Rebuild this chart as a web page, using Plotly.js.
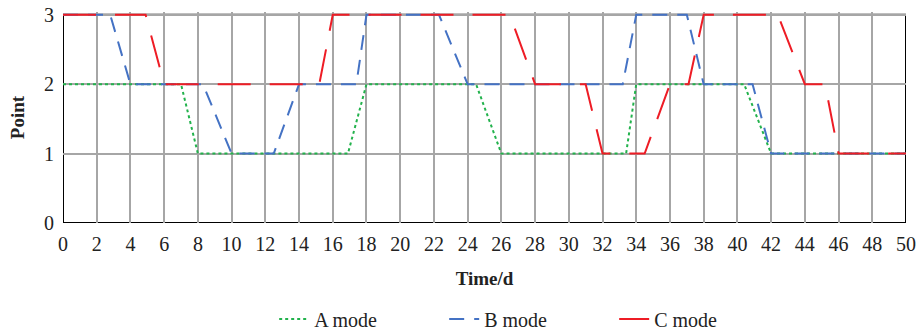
<!DOCTYPE html>
<html><head><meta charset="utf-8">
<script src="https://cdn.plot.ly/plotly-3.0.1.min.js"></script>
<style>html,body{margin:0;padding:0;background:#fff}#chart{width:922px;height:330px}</style>
</head><body><div id="chart"></div>
<script>
const aX = [0, 7, 8, 16.9, 18, 24.5, 26, 33.4, 34, 40.4, 42, 50];
const aY = [2, 2, 1, 1, 2, 2, 1, 1, 2, 2, 1, 1];
const bX = [0, 2.8, 4, 8.3, 10, 12.5, 14, 17.4, 18, 22.3, 24, 33.2, 34, 37, 38, 40.9, 42, 50];
const bY = [3, 3, 2, 2, 1, 1, 2, 2, 3, 3, 2, 2, 3, 3, 2, 2, 1, 1];
const cX = [0, 4.9, 6, 15.2, 16, 26.5, 28, 31, 32, 34.5, 36, 37.1, 38, 42.4, 44, 45.2, 46, 50];
const cY = [3, 3, 2, 2, 3, 3, 2, 2, 1, 1, 2, 2, 3, 3, 2, 2, 1, 1];
const names = ['A mode', 'B mode', 'C mode'];
const xTicks = [0,2,4,6,8,10,12,14,16,18,20,22,24,26,28,30,32,34,36,38,40,42,44,46,48,50];
const yTicks = [0,1,2,3];

const font = 'Liberation Serif';
const tickFont = {family: font, size: 20, color: '#222'};
const traces = [
  {x: aX, y: aY, name: names[0], mode: 'lines', line: {color: '#22b24c', width: 2, dash: 'dot'}},
  {x: bX, y: bY, name: names[1], mode: 'lines', line: {color: '#4472c4', width: 2, dash: '15px,10px'}},
  {x: cX, y: cY, name: names[2], mode: 'lines', line: {color: '#ee1c25', width: 2, dash: '33px,19px'}}
];
const layout = {
  width: 922, height: 330,
  margin: {l: 63, r: 16, t: 12, b: 107, autoexpand: false},
  paper_bgcolor: '#fff', plot_bgcolor: '#fff',
  font: {family: font, size: 20, color: '#222'},
  showlegend: true,
  legend: {orientation: 'h', x: 0.553, xanchor: 'center', y: -0.455, yanchor: 'middle',
           font: {family: font, size: 20, color: '#222'}, entrywidth: 125},
  xaxis: {
    range: [0, 50], tickvals: xTicks, ticktext: xTicks.map(String), tickfont: tickFont,
    showgrid: true, gridcolor: '#a6a6a6', gridwidth: 2,
    showline: false, ticks: '', zeroline: false, ticklabelstandoff: 7,
    title: {text: 'Time/d', font: {family: font, size: 19, weight: 'bold', color: '#222'}, standoff: 17}
  },
  yaxis: {
    range: [0, 3.04], tickvals: yTicks, ticktext: yTicks.map(String), tickfont: tickFont,
    showgrid: true, gridcolor: '#a6a6a6', gridwidth: 2,
    showline: false, ticks: '', zeroline: false, ticklabelstandoff: 8,
    title: {text: 'Point', font: {family: font, size: 19, weight: 'bold', color: '#222'}, standoff: 14}
  },
  shapes: [
    {type: 'rect', xref: 'x', yref: 'y', x0: 0, x1: 50, y0: 0, y1: 3,
     line: {color: '#000', width: 2}, layer: 'below'}
  ]
};
Plotly.newPlot('chart', traces, layout, {displayModeBar: false, staticPlot: true});
</script></body></html>
